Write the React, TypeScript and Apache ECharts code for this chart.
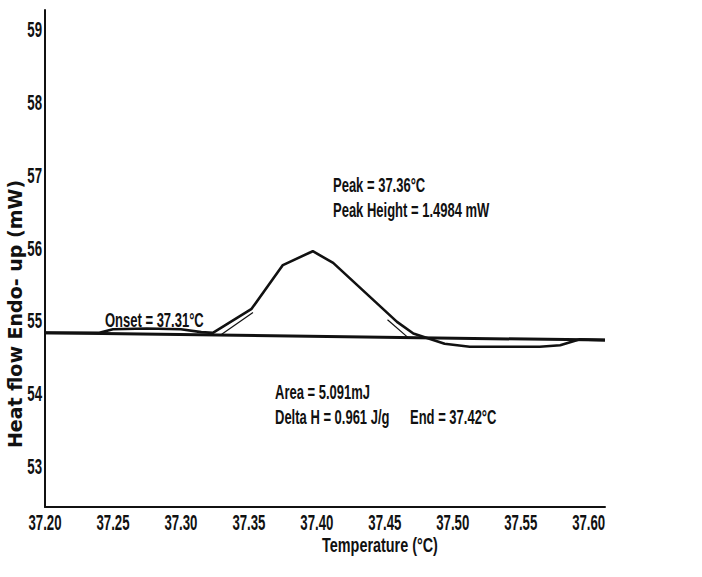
import React, { useEffect, useRef } from "react";
import * as echarts from "echarts";

const xTicks = [37.2, 37.25, 37.3, 37.35, 37.4, 37.45, 37.5, 37.55, 37.6];
const yTicks = [53, 54, 55, 56, 57, 58, 59];

const curveT = [37.2, 37.24, 37.25, 37.275, 37.3, 37.315, 37.3235, 37.352, 37.375, 37.397, 37.412, 37.459, 37.471, 37.476, 37.494, 37.5125, 37.564, 37.579, 37.593, 37.612];
const curveH = [54.84, 54.84, 54.89, 54.9, 54.89, 54.85, 54.84, 55.17, 55.77, 55.96, 55.8, 54.99, 54.83, 54.8, 54.69, 54.65, 54.65, 54.67, 54.75, 54.74];

const baseT = [37.2, 37.612];
const baseH = [54.84, 54.74];

const onsetTanT = [37.33, 37.353];
const onsetTanH = [54.82, 55.12];
const endTanT = [37.452, 37.468];
const endTanH = [55.02, 54.76];

const X_MIN = 37.2;
const X_MAX = 37.612;
const Y_MIN = 52.45;
const Y_MAX = 59.27;

const FONT = "'Liberation Sans', Arial, sans-serif";

const pairs = (a: number[], b: number[]) => a.map((v, i) => [v, b[i]]);

export default function App() {
  const ref = useRef<HTMLDivElement>(null);
  useEffect(() => {
    document.body.style.margin = "0";
    const chart = echarts.init(ref.current!, null, { renderer: "svg" });
    const note = (t: string, x: number, y: number) => ({
      type: "text",
      x,
      y,
      scaleX: 0.65,
      style: { text: t, fill: "#111", font: `bold 20px ${FONT}`, textVerticalAlign: "middle" },
    });
    chart.setOption({
      animation: false,
      backgroundColor: "#fff",
      grid: { left: 45, top: 10, right: 97, bottom: 70, containLabel: false, outerBoundsMode: "none" },
      xAxis: {
        type: "value",
        min: X_MIN,
        max: X_MAX,
        axisLine: { show: true, lineStyle: { color: "#111", width: 2 } },
        axisTick: { show: false },
        splitLine: { show: false },
        axisLabel: { show: false },
      },
      yAxis: {
        type: "value",
        min: Y_MIN,
        max: Y_MAX,
        axisLine: { show: true, lineStyle: { color: "#111", width: 2 } },
        axisTick: { show: false },
        splitLine: { show: false },
        axisLabel: { show: false },
      },
      series: [
        {
          type: "line",
          data: pairs(baseT, baseH),
          symbol: "none",
          lineStyle: { color: "#111", width: 3 },
        },
        {
          type: "line",
          data: pairs(curveT, curveH),
          symbol: "none",
          lineStyle: { color: "#111", width: 2.6 },
        },
        {
          type: "line",
          data: pairs(onsetTanT, onsetTanH),
          symbol: "none",
          lineStyle: { color: "#111", width: 1.2 },
        },
        {
          type: "line",
          data: pairs(endTanT, endTanH),
          symbol: "none",
          lineStyle: { color: "#111", width: 1.2 },
        },
      ],
    });

    const toPx = (v: number[]) => chart.convertToPixel({ xAxisIndex: 0, yAxisIndex: 0 }, v) as number[];
    const tickTexts: any[] = [];
    xTicks.forEach((t) => {
      const p = toPx([t, Y_MIN]);
      tickTexts.push({
        type: "text",
        x: p[0],
        y: p[1] + 16,
        scaleX: 0.6,
        style: { text: t.toFixed(2), fill: "#111", font: `bold 22px ${FONT}`, textAlign: "center", textVerticalAlign: "middle" },
      });
    });
    yTicks.forEach((v) => {
      const p = toPx([X_MIN, v]);
      tickTexts.push({
        type: "text",
        x: p[0] - 3,
        y: p[1],
        scaleX: 0.6,
        style: { text: String(v), fill: "#111", font: `bold 22px ${FONT}`, textAlign: "right", textVerticalAlign: "middle" },
      });
    });

    chart.setOption({
      graphic: [
        ...tickTexts,
        {
          type: "text",
          x: 380,
          y: 545,
          scaleX: 0.72,
          style: { text: "Temperature (°C)", fill: "#111", font: `bold 20px ${FONT}`, textAlign: "center", textVerticalAlign: "middle" },
        },
        {
          type: "text",
          x: 15,
          y: 314,
          rotation: Math.PI / 2,
          style: { text: "Heat flow Endo- up (mW)", fill: "#111", font: "bold 19px 'DejaVu Sans', sans-serif", textAlign: "center", textVerticalAlign: "middle" },
        },
        note("Peak = 37.36°C", 333, 185),
        note("Peak Height = 1.4984 mW", 333, 210),
        note("Onset = 37.31°C", 105, 320),
        note("Area = 5.091mJ", 275, 392),
        note("Delta H = 0.961 J/g", 275, 417),
        note("End = 37.42°C", 410, 417),
      ],
    });
    return () => chart.dispose();
  }, []);
  return <div ref={ref} style={{ width: 702, height: 577 }} />;
}
